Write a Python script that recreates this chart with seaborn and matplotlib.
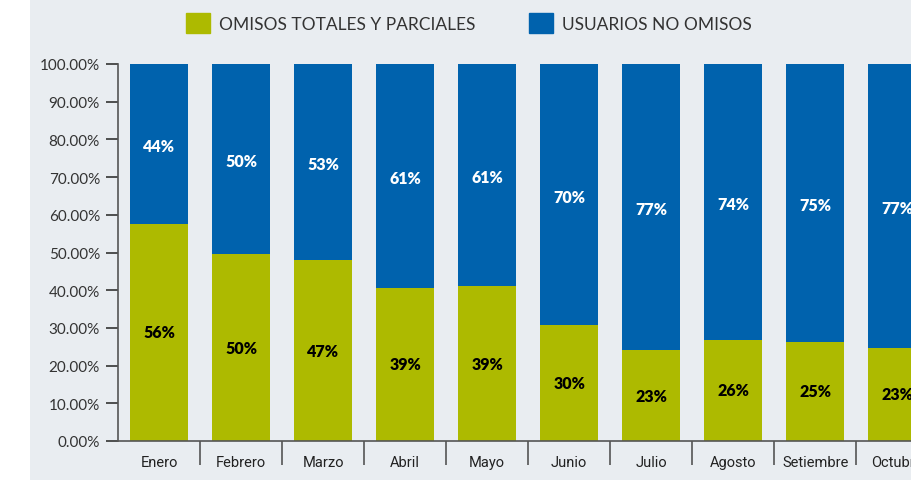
import matplotlib
matplotlib.use("Agg")
import matplotlib.pyplot as plt
import matplotlib.patches as mpatches
from matplotlib.ticker import FixedLocator
import seaborn as sns
import pandas as pd

months = ["Enero", "Febrero", "Marzo", "Abril", "Mayo", "Junio",
          "Julio", "Agosto", "Setiembre", "Octubre"]
omisos = [57.6, 49.6, 48.0, 40.6, 41.1, 30.8, 24.1, 26.8, 26.3, 24.7]
no_omisos = [42.4, 50.4, 52.0, 59.4, 58.9, 69.2, 75.9, 73.2, 73.7, 75.3]
omisos_lbl = ["56%", "50%", "47%", "39%", "39%", "30%", "23%", "26%", "25%", "23%"]
no_omisos_lbl = ["44%", "50%", "53%", "61%", "61%", "70%", "77%", "74%", "75%", "77%"]
yticks = [0, 10, 20, 30, 40, 50, 60, 70, 80, 90, 100]

GREEN = "#adba00"
BLUE = "#0062ad"
PANEL = "#e9edf1"

df = pd.DataFrame({"mes": months, "omisos": omisos, "no_omisos": no_omisos})
df["total"] = df["omisos"] + df["no_omisos"]

sns.set_style("white")
plt.rcParams["font.family"] = ["Lato", "DejaVu Sans"]

fig = plt.figure(figsize=(9.12, 4.81), dpi=100, facecolor="white")
bg = fig.add_axes([30 / 912, 0, 1 - 30 / 912, 1], zorder=-10)
bg.set_axis_off()
bg.add_patch(mpatches.Rectangle((0, 0), 1, 1, transform=bg.transAxes, color=PANEL))

ax = fig.add_axes([118 / 912, 39 / 481, 1 - 118 / 912, 377 / 481])
ax.set_facecolor("none")

sns.barplot(data=df, x="mes", y="total", color=BLUE, width=0.71, saturation=1,
            linewidth=0, ax=ax)
sns.barplot(data=df, x="mes", y="omisos", color=GREEN, width=0.71, saturation=1,
            linewidth=0, ax=ax)

for i in range(len(months)):
    ax.text(i, omisos[i] / 2, omisos_lbl[i], ha="center", va="center",
            fontsize=11.5, fontweight="heavy", color="black")
    ax.text(i, omisos[i] + no_omisos[i] / 2 - 0.6, no_omisos_lbl[i], ha="center",
            va="center", fontsize=11.5, fontweight="heavy", color="white")

ax.set_xlim(-0.5, 9.18)
ax.set_ylim(0, 100)
ax.set_yticks(yticks)
ax.set_yticklabels([f"{v:.2f}%" for v in yticks], fontsize=11, color="#333333")
ax.set_xlabel("")
ax.set_ylabel("")
ax.set_xticks(range(len(months)))
ax.set_xticklabels(months, fontsize=10.5, color="#222222", family=["Roboto", "DejaVu Sans"])
ax.xaxis.set_minor_locator(FixedLocator([i + 0.5 for i in range(len(months))]))
ax.tick_params(axis="x", which="major", bottom=True, length=0, pad=10)
ax.tick_params(axis="x", which="minor", bottom=True, length=17.5, width=1.2,
               color="#555555", direction="out")
ax.tick_params(axis="y", left=True, length=9, width=1.2, color="#333333",
               direction="out", pad=4)

for s in ["top", "right"]:
    ax.spines[s].set_visible(False)
for s in ["left", "bottom"]:
    ax.spines[s].set_color("#555555")
    ax.spines[s].set_linewidth(1.2)

handles = [mpatches.Patch(color=GREEN, label="OMISOS TOTALES Y PARCIALES"),
           mpatches.Patch(color=BLUE, label="USUARIOS NO OMISOS")]
fig.legend(handles=handles, loc="upper left", bbox_to_anchor=(170 / 912, 1.003), ncol=2,
           frameon=False, fontsize=12.5, handlelength=1.4, handleheight=1.4,
           columnspacing=3.1, handletextpad=0.5, labelcolor="#333333")

fig.savefig("out.png", dpi=100, facecolor="white")
